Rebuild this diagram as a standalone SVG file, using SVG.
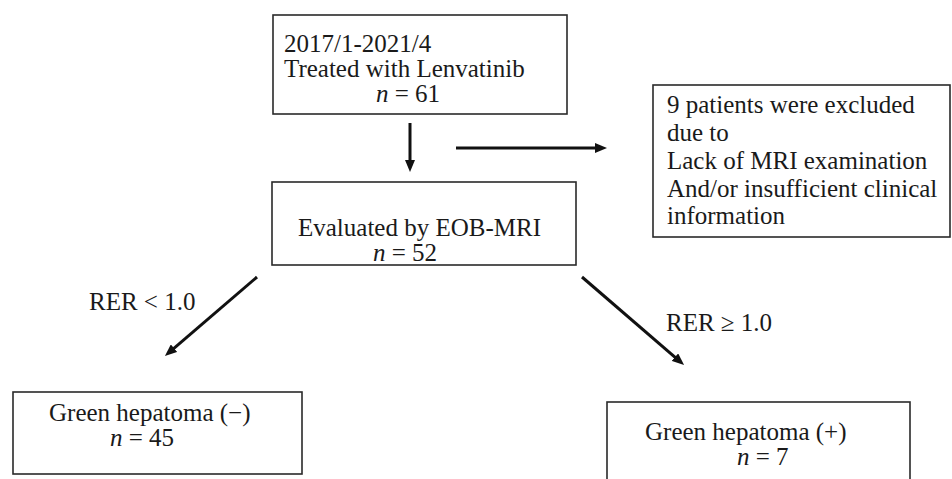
<svg xmlns="http://www.w3.org/2000/svg" width="952" height="479" viewBox="0 0 952 479">
<style>
.box{fill:#fff;stroke:#2a2a2a;stroke-width:1.6}
.t{font-family:"Liberation Serif","DejaVu Serif",serif;font-size:25px;fill:#1a1a1a}
.i{font-style:italic}
.arr{stroke:#111;stroke-width:3;fill:none;marker-end:url(#ah)}
</style>
<defs>
<marker id="ah" viewBox="0 0 12 10" refX="6" refY="5" markerWidth="12" markerHeight="10" markerUnits="userSpaceOnUse" orient="auto">
<path d="M0,0 L12,5 L0,10 Z" fill="#111"/>
</marker>
</defs>
<rect width="952" height="479" fill="#fff"/>
<g id="n-start">
<rect class="box" x="273" y="15" width="294" height="99"/>
<text class="t" x="284" y="52">2017/1-2021/4</text>
<text class="t" x="284" y="77">Treated with Lenvatinib</text>
<text class="t" x="376" y="102"><tspan class="i">n</tspan> = 61</text>
</g>
<g id="n-excluded">
<rect class="box" x="653" y="85" width="297" height="152"/>
<text class="t" x="667" y="113">9 patients were excluded</text>
<text class="t" x="667" y="141">due to</text>
<text class="t" x="667" y="169">Lack of MRI examination</text>
<text class="t" x="667" y="197">And/or insufficient clinical</text>
<text class="t" x="667" y="224">information</text>
</g>
<g id="n-eob">
<rect class="box" x="272" y="182" width="304" height="83"/>
<text class="t" x="298" y="236">Evaluated by EOB-MRI</text>
<text class="t" x="373" y="261"><tspan class="i">n</tspan> = 52</text>
</g>
<g id="n-neg">
<rect class="box" x="13" y="392" width="289" height="82"/>
<text class="t" x="49" y="421">Green hepatoma (−)</text>
<text class="t" x="110" y="446"><tspan class="i">n</tspan> = 45</text>
</g>
<g id="n-pos">
<rect class="box" x="607" y="402" width="303" height="90"/>
<text class="t" x="645" y="440">Green hepatoma (+)</text>
<text class="t" x="737" y="465"><tspan class="i">n</tspan> = 7</text>
</g>
<g id="connectors">
<line class="arr" x1="410" y1="123" x2="410" y2="166"/>
<line class="arr" x1="456" y1="148" x2="601" y2="148"/>
<line class="arr" x1="257" y1="277" x2="169.5" y2="352.1"/>
<line class="arr" x1="582" y1="277" x2="679.5" y2="361.1"/>
<text class="t" x="89" y="310">RER &lt; 1.0</text>
<text class="t" x="666" y="331">RER ≥ 1.0</text>
</g>
</svg>
